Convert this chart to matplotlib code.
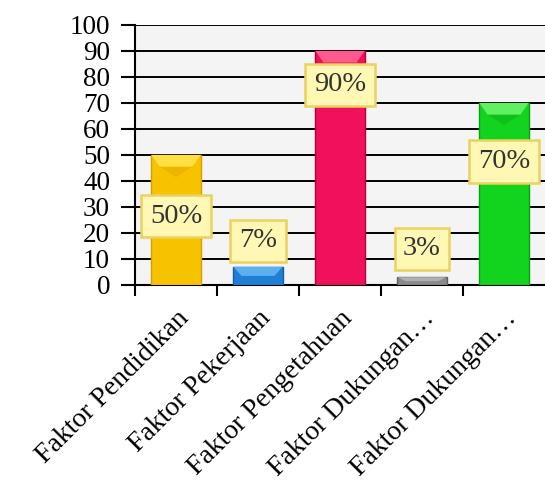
from matplotlib import pyplot as plt
from matplotlib.patches import Polygon
from matplotlib.transforms import ScaledTranslation

# data
categories = ['Faktor Pendidikan', 'Faktor Pekerjaan', 'Faktor Pengetahuan',
              'Faktor Dukungan\u2026', 'Faktor Dukungan\u2026']
values = [50, 7, 90, 3, 70]
labels = ['50%', '7%', '90%', '3%', '70%']
colors = ['#f7c200', '#1f7fd6', '#f0105c', '#8a8a8a', '#12d41e']
darks = ['#d89e00', '#155fa8', '#b8003e', '#5e5e5e', '#08a012']
lights = ['#ffe040', '#5cb0f0', '#ff5a90', '#b0b0b0', '#60f060']

plt.rcParams['font.family'] = ['Liberation Serif', 'DejaVu Serif']

fig = plt.figure(figsize=(5.45, 4.87), dpi=100)
ax = fig.add_axes([135/545, 202/487, 410/545, 260/487])
ax.set_facecolor('#f4f4f4')

x = list(range(len(values)))
width = 0.6
ax.bar(x, values, width=width, color=colors, edgecolor=darks, linewidth=1, zorder=3)

# bevel on top of each bar
for i, v in enumerate(values):
    b = min(4.5, v * 0.5)
    l, r = i - width/2, i + width/2
    ax.add_patch(Polygon([(l, v), (r, v), (r - 0.1, v - b), (l + 0.1, v - b)],
                         closed=True, facecolor=lights[i], edgecolor='none', zorder=4))
    ax.add_patch(Polygon([(l + 0.1, v - b), (r - 0.1, v - b), (i, v - b - 4 if v > 20 else v - b)],
                         closed=True, facecolor=darks[i], alpha=0.35, edgecolor='none', zorder=4))

# label boxes
label_y = [26.5, 17, 77, 14, 47.5]
for i, t in enumerate(labels):
    ax.text(i, label_y[i], t, ha='center', va='center', fontsize=20.5, color='#333333', zorder=6,
            bbox=dict(boxstyle='square,pad=0.3', facecolor='#fff7b4', edgecolor='#ebd160', linewidth=1.8))

ax.set_ylim(0, 100)
ax.set_xlim(-0.5, 4.5)
ax.set_yticks(range(0, 101, 10))
ax.yaxis.grid(True, color='black', linewidth=1.4, zorder=1)
ax.set_axisbelow(True)
ax.set_xticks([i - 0.5 for i in range(5)])
ax.set_xticklabels([])
ax.set_xticks(x, minor=True)
ax.set_xticklabels(categories, minor=True, rotation=45, ha='right', rotation_mode='anchor', fontsize=20)
shift = ScaledTranslation(-6/100, 5/100, fig.dpi_scale_trans)
for lab in ax.get_xticklabels(minor=True):
    lab.set_transform(lab.get_transform() + shift)
ax.tick_params(axis='x', which='minor', length=0, pad=15)
ax.tick_params(axis='x', which='major', length=8, width=1.5, direction='out')
ax.tick_params(axis='y', length=10, width=1.5, labelsize=19.5, pad=8)
for s in ['top', 'right']:
    ax.spines[s].set_visible(False)
for s in ['left', 'bottom']:
    ax.spines[s].set_linewidth(1.5)

fig.savefig('out.png', dpi=100)
